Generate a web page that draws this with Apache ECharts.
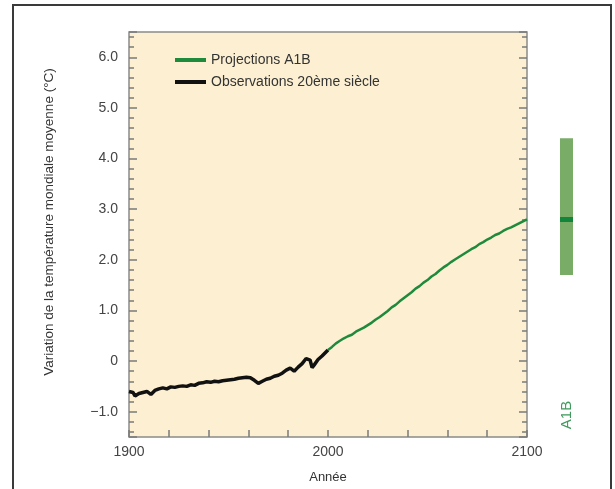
<!DOCTYPE html>
<html>
<head>
<meta charset="utf-8">
<script src="https://cdn.jsdelivr.net/npm/echarts@6/dist/echarts.min.js"></script>
<style>
html,body{margin:0;padding:0;background:#fff;}
#c{width:615px;height:489px;}
</style>
</head>
<body>
<div id="c"></div>
<script>
// Observations (20th century)
var obsYears = [1900,1902,1903,1905,1907,1909,1911,1913,1915,1917,1919,1921,1923,1925,1927,1929,1931,1933,1935,1937,1939,1941,1943,1945,1947,1949,1951,1953,1955,1957,1959,1961,1963,1965,1967,1969,1971,1973,1975,1977,1979,1981,1983,1985,1987,1989,1990,1991,1992,1993,1995,1997,1999,2000];
var obsValues = [-0.60,-0.62,-0.69,-0.64,-0.62,-0.60,-0.66,-0.58,-0.55,-0.53,-0.55,-0.51,-0.52,-0.50,-0.49,-0.50,-0.47,-0.48,-0.44,-0.43,-0.41,-0.42,-0.40,-0.41,-0.39,-0.38,-0.37,-0.36,-0.34,-0.33,-0.32,-0.33,-0.38,-0.44,-0.40,-0.36,-0.34,-0.30,-0.28,-0.24,-0.18,-0.14,-0.20,-0.12,-0.05,0.05,0.08,0.02,-0.13,-0.08,0.03,0.10,0.18,0.22];
// Projections A1B
var projYears = [2000,2002,2004,2006,2008,2010,2012,2014,2016,2018,2020,2022,2024,2026,2028,2030,2032,2034,2036,2038,2040,2042,2044,2046,2048,2050,2052,2054,2056,2058,2060,2062,2064,2066,2068,2070,2072,2074,2076,2078,2080,2082,2084,2086,2088,2090,2092,2094,2096,2098,2100];
var projValues = [0.22,0.28,0.35,0.40,0.45,0.49,0.52,0.58,0.62,0.66,0.71,0.76,0.82,0.87,0.93,0.99,1.06,1.11,1.18,1.24,1.30,1.36,1.43,1.48,1.55,1.60,1.67,1.72,1.79,1.85,1.90,1.96,2.01,2.06,2.11,2.16,2.21,2.25,2.31,2.35,2.40,2.44,2.49,2.52,2.57,2.61,2.64,2.68,2.72,2.76,2.80];
// Likely range bar for 2100 (A1B)
var rangeLow = 1.7, rangeHigh = 4.4, bestEstimate = 2.8;
var xTickLabels = [1900, 2000, 2100];
var legendNames = ['Projections A1B', 'Observations 20ème siècle'];

function zip(a, b){ return a.map(function(v,i){ return [v, b[i]]; }); }

var chart = echarts.init(document.getElementById('c'), null, {renderer:'canvas'});
var font = 'Liberation Sans, Arial, sans-serif';
var tickColor = '#7a7a7a';

chart.setOption({
  backgroundColor: '#ffffff',
  animation: false,
  textStyle: {fontFamily: font},
  legend: {
    data: legendNames,
    orient: 'vertical',
    left: 170, top: 48,
    itemWidth: 31, itemHeight: 4, itemGap: 8,
    icon: 'rect',
    textStyle: {fontSize: 14, color: '#333', fontFamily: font}
  },
  grid: [
    {left: 129, top: 32, width: 398, height: 405, show: true, backgroundColor: '#fdf0d2', borderColor: '#8a8a8a', borderWidth: 1.5},
    {left: 560, top: 32, width: 13, height: 405, show: false}
  ],
  xAxis: [
    {
      type: 'value', gridIndex: 0, min: 1900, max: 2100, splitNumber: 2,
      axisLine: {show: false, onZero: false},
      axisTick: {show: true, inside: true, length: 7, lineStyle: {color: tickColor, width: 1.5}},
      minorTick: {show: true, splitNumber: 5, length: 7, lineStyle: {color: tickColor, width: 1.5}},
      splitLine: {show: false},
      axisLabel: {margin: 8, fontSize: 14, color: '#444', formatter: function(v){ return xTickLabels.indexOf(v) >= 0 ? String(v) : ''; }},
      name: 'Année', nameLocation: 'middle', nameGap: 34,
      nameTextStyle: {fontSize: 13, color: '#333'}
    },
    {type: 'category', gridIndex: 1, data: ['A1B'], show: false}
  ],
  yAxis: [
    {
      type: 'value', gridIndex: 0, min: -1.5, max: 6.5, splitNumber: 8,
      axisLine: {show: false, onZero: false},
      axisTick: {show: true, inside: true, length: 8, lineStyle: {color: tickColor, width: 1.5}},
      minorTick: {show: true, splitNumber: 5, length: 5, lineStyle: {color: tickColor, width: 1.5}},
      splitLine: {show: false},
      axisLabel: {
        margin: 11, fontSize: 14, color: '#444', showMinLabel: false, showMaxLabel: false,
        formatter: function(v){
          if (Math.abs(v - Math.round(v)) > 1e-6) return '';
          if (v === 0) return '0';
          return v < 0 ? '\u2212' + Math.abs(v).toFixed(1) : v.toFixed(1);
        }
      }
    },
    {
      type: 'value', gridIndex: 0, min: -1.5, max: 6.5, splitNumber: 8, position: 'right',
      axisLine: {show: false, onZero: false},
      axisTick: {show: true, inside: true, length: 8, lineStyle: {color: tickColor, width: 1.5}},
      minorTick: {show: true, splitNumber: 5, length: 5, lineStyle: {color: tickColor, width: 1.5}},
      splitLine: {show: false},
      axisLabel: {show: false}
    },
    {type: 'value', gridIndex: 1, min: -1.5, max: 6.5, show: false, splitLine: {show: false}}
  ],
  series: [
    {
      name: 'Projections A1B', type: 'line', xAxisIndex: 0, yAxisIndex: 0,
      data: zip(projYears, projValues), showSymbol: false, symbol: 'none',
      lineStyle: {color: '#1f8a3c', width: 2.5}, itemStyle: {color: '#1f8a3c'}, z: 3
    },
    {
      name: 'Observations 20ème siècle', type: 'line', xAxisIndex: 0, yAxisIndex: 0,
      data: zip(obsYears, obsValues), showSymbol: false, symbol: 'none',
      lineStyle: {color: '#111', width: 3.5}, itemStyle: {color: '#111'}, z: 4
    },
    {
      type: 'bar', xAxisIndex: 1, yAxisIndex: 2, stack: 'r', barWidth: '100%',
      data: [rangeLow], itemStyle: {color: 'rgba(0,0,0,0)'}, silent: true
    },
    {
      type: 'bar', xAxisIndex: 1, yAxisIndex: 2, stack: 'r', barWidth: '100%',
      data: [rangeHigh - rangeLow], itemStyle: {color: '#79ad67'}, silent: true,
      markLine: {
        symbol: 'none', silent: true, label: {show: false},
        lineStyle: {color: '#12853a', width: 5, type: 'solid'},
        data: [{yAxis: bestEstimate}]
      }
    }
  ],
  graphic: [
    {type: 'rect', shape: {x: 13, y: 5, width: 598, height: 500}, style: {fill: 'none', stroke: '#3a3a3a', lineWidth: 2}, silent: true},
    {type: 'text', x: 49, y: 222, rotation: Math.PI / 2, style: {text: 'Variation de la température mondiale moyenne (°C)', fill: '#333', font: '13.5px ' + font, align: 'center', verticalAlign: 'middle'}},
    {type: 'text', x: 567, y: 415, rotation: Math.PI / 2, style: {text: 'A1B', fill: '#3f9a5c', font: '15px ' + font, align: 'center', verticalAlign: 'middle'}}
  ]
});
</script>
</body>
</html>
